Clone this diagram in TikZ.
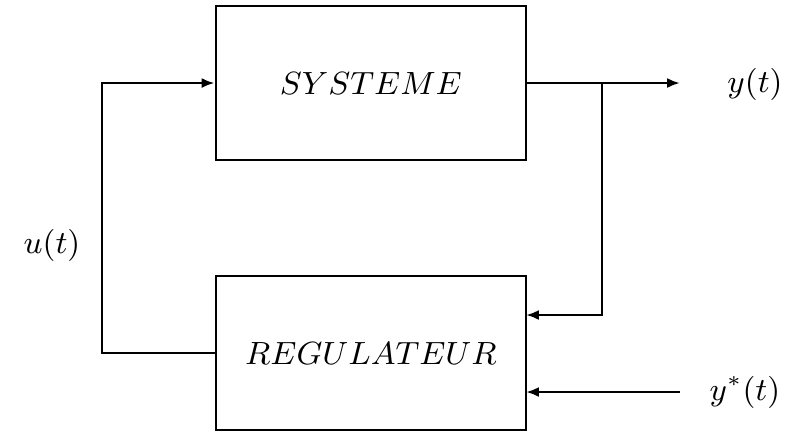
\documentclass[tikz,border=0pt]{standalone}
\usetikzlibrary{arrows.meta}
\begin{document}
\begin{tikzpicture}[x=0.28pt,y=-0.28pt,
  every node/.style={font=\fontsize{9.2}{11}\selectfont},
  blockbox/.style={draw,line width=0.8pt,minimum width=86.8pt,minimum height=43.1pt,inner sep=0pt},
  wire/.style={line width=0.8pt},
  arr/.style={wire,-{Latex[length=3.6pt,width=2.8pt]}},
  lbl/.style={inner sep=0pt}]
  \useasboundingbox (0,0) rectangle (793,434);
  % blocks
  \node[blockbox] (sys) at (371,83) {$SYSTEME$};
  \node[blockbox] (reg) at (371,353) {$REGULATEUR$};
  % signal labels
  \node[lbl] (yout) at (755,84) {$y(t)$};
  \node[lbl] (ulab) at (52,245) {$u(t)$};
  \node[lbl] (yref) at (745,392) {$y^*(t)$};
  % helper points
  \coordinate (yend) at (680,83);
  \coordinate (br) at (602,83);
  \coordinate (fb) at (526,315);
  \coordinate (refstart) at (680,392);
  \coordinate (refin) at (526,392);
  \coordinate (uleft) at (102,353);
  % command loop
  \draw[arr] (reg.west) -- (uleft) |- (sys.west);
  % output and measurement feedback
  \draw[arr] (sys.east) -- (yend);
  \draw[arr] (br) |- (fb);
  % set point
  \draw[arr] (refstart) -- (refin);
\end{tikzpicture}
\end{document}
